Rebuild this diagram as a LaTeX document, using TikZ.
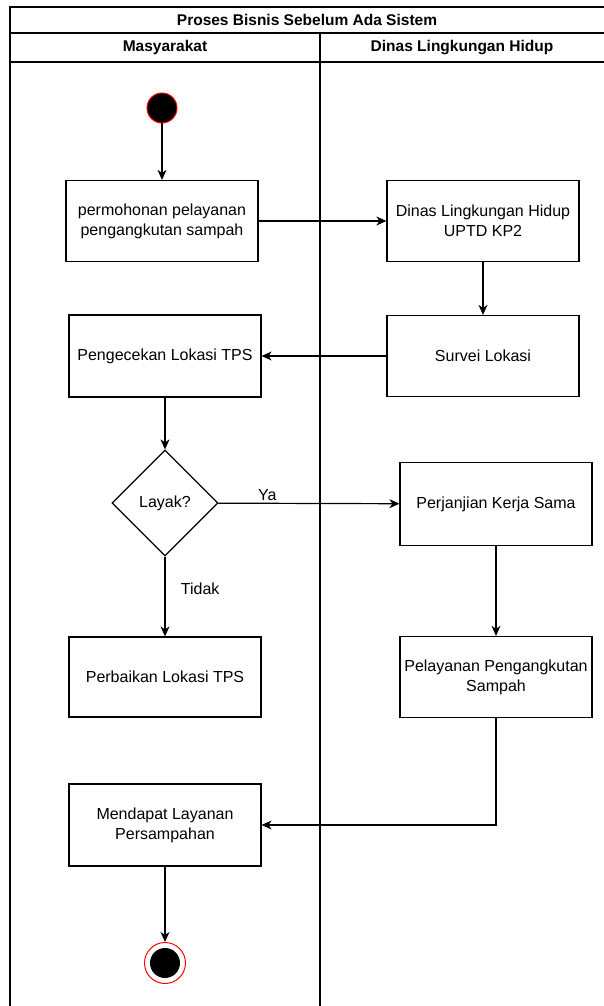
\documentclass[tikz,border=0pt]{standalone}
\usepackage{fontspec}
\setmainfont{Liberation Sans}
\usetikzlibrary{shapes.geometric,arrows.meta}
\begin{document}
\begin{tikzpicture}[x=1pt,y=-1pt,
  every node/.style={font=\fontsize{16}{20}\selectfont},
  actbox/.style={draw=black,line width=1.2pt,fill=white,rectangle,minimum width=192pt,minimum height=81pt,inner sep=2pt,align=center},
  decbox/.style={draw=black,line width=1.2pt,fill=white,diamond,aspect=1,minimum width=106pt,minimum height=106pt,inner sep=0pt},
  flow/.style={line width=1.2pt,-{Stealth[length=10pt,width=9pt,inset=3pt]}},
  pool/.style={line width=1.3pt,draw=black},
  hdr/.style={font=\fontsize{15.5}{19}\selectfont\bfseries}
]
\useasboundingbox (0,0) rectangle (604,1006);
% pool and lanes
\draw[pool] (605,7) -- (10,7) -- (10,1007);
\draw[pool] (10,33) -- (605,33);
\draw[pool] (10,62) -- (605,62);
\draw[pool] (320,33) -- (320,1007);
\node[hdr] (title) at (307,20) {Proses Bisnis Sebelum Ada Sistem};
\node[hdr] (lane1) at (165,47.5) {Masyarakat};
\node[hdr] (lane2) at (462,47.5) {Dinas Lingkungan Hidup};
% nodes
\node[circle,draw=red,fill=black,line width=1pt,minimum size=30pt,inner sep=0pt] (start) at (162,108) {};
\node[actbox] (b1) at (162,221) {permohonan pelayanan\\pengangkutan sampah};
\node[actbox] (b2) at (483,221) {Dinas Lingkungan Hidup\\UPTD KP2};
\node[actbox,minimum height=82pt] (b3) at (165,356) {Pengecekan Lokasi TPS};
\node[actbox] (b4) at (483,356) {Survei Lokasi};
\node[decbox] (d) at (165,503) {Layak?};
\node[actbox,minimum height=83pt] (b5) at (496,504) {Perjanjian Kerja Sama};
\node[actbox,minimum height=80pt] (b6) at (165,677) {Perbaikan Lokasi TPS};
\node[actbox] (b7) at (496,677) {Pelayanan Pengangkutan\\Sampah};
\node[actbox,minimum height=82pt] (b8) at (165,825) {Mendapat Layanan\\Persampahan};
\node[circle,draw=red,fill=white,line width=1pt,minimum size=41pt,inner sep=0pt] (end) at (165,963) {};
\node[circle,fill=black,minimum size=30pt,inner sep=0pt] (endin) at (end.center) {};
% connectors
\draw[flow] (start) -- (b1);
\draw[flow] (b1) -- (b2);
\draw[flow] (b2) -- (b4);
\draw[flow] (b4) -- (b3);
\draw[flow] (b3) -- (d);
\draw[flow] (d) -- node[pos=0.27,above=-1pt] (ya) {Ya} (b5);
\draw[flow] (d) -- node[pos=0.4,right=12pt] (tidak) {Tidak} (b6);
\draw[flow] (b5) -- (b7);
\draw[flow] (b7.south) |- (b8.east);
\draw[flow] (b8) -- (end);
\end{tikzpicture}
\end{document}
